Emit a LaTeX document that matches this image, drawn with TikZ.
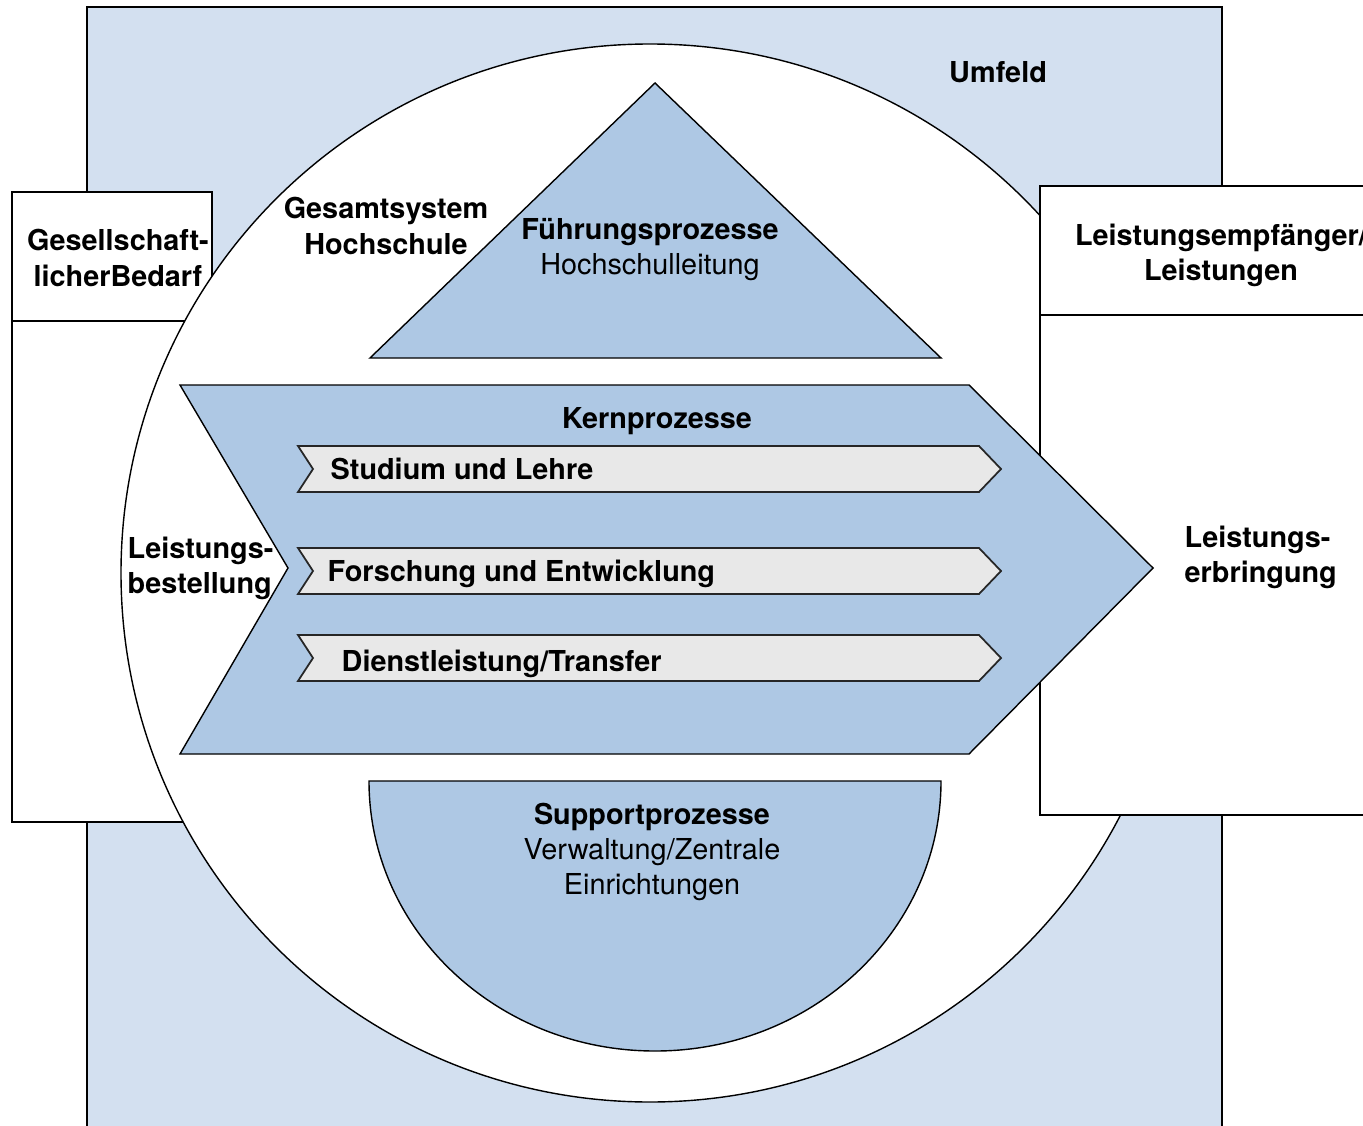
\documentclass[tikz,border=0pt]{standalone}
\usepackage{fontspec}
\setmainfont{TeX Gyre Heros}
\usetikzlibrary{positioning}
\definecolor{umfeldblue}{RGB}{211,224,240}
\definecolor{procblue}{RGB}{174,200,228}
\definecolor{subgray}{RGB}{232,232,232}

\begin{document}
\begin{tikzpicture}[
      frame/.style={
         draw=black,
         line width=0.5pt
      },
      process/.style={
         draw=black,
         fill=procblue,
         line width=0.4pt,
         line join=miter
      },
      subprocess/.style={
         draw=black!85,
         fill=subgray,
         line width=0.5pt
      },
      heading/.style={
         font=\fontsize{8.2}{10}\selectfont\bfseries,
         inner sep=0pt,
         align=center
      },
      plain/.style={
         font=\fontsize{8.2}{10}\selectfont,
         inner sep=0pt,
         align=center
      }
    ]
    \useasboundingbox (0,0) rectangle (13.63,11.25);
    \clip (0,0) rectangle (13.63,11.25);
    % Umfeld
    \draw[frame, fill=umfeldblue] (0.87,-0.1) -- (0.87,11.18) -- (12.22,11.18) -- (12.22,-0.1);
    % left box
    \draw[frame, fill=white] (0.12,3.03) rectangle (2.12,9.33);
    \draw[frame] (0.12,8.04) -- (2.12,8.04);
    % Gesamtsystem
    \draw[line width=0.4pt, fill=white] (6.50,5.52) circle (5.29);
    % right box
    \draw[frame, fill=white] (10.40,3.10) rectangle (14.0,9.39);
    \draw[frame] (10.40,8.10) -- (14.0,8.10);
    % Kernprozesse
    \draw[process] (1.80,7.40) -- (9.69,7.40) -- (11.53,5.57) -- (9.69,3.71)
       -- (1.80,3.71) -- (2.88,5.57) -- cycle;
    % Fuehrung
    \draw[process] (3.70,7.67) -- (6.55,10.42) -- (9.41,7.67) -- cycle;
    % Support
    \draw[process] (3.69,3.44) arc[start angle=180, end angle=360, x radius=2.86, y radius=2.70] -- cycle;
    % sub processes
    \foreach \y in {6.56, 5.54, 4.67} {
      \draw[subprocess] (2.98,\y+0.23) -- (9.79,\y+0.23) -- (10.01,\y) -- (9.79,\y-0.23)
         -- (2.98,\y-0.23) -- (3.13,\y) -- cycle;
    }

    \node[heading] (umfeld) at (9.98,10.53) {Umfeld};
    \node[heading] (gesamt) at (3.86,8.99) {Gesamtsystem\\Hochschule};
    \node[heading] (bedarf) at (1.18,8.67) {Gesellschaft-\\licherBedarf};
    \node[heading] (empfaenger) at (12.21,8.70) {Leistungsempfänger/\\Leistungen};
    \node[plain] (fuehrung) at (6.50,8.75) {\textbf{Führungsprozesse}\\Hochschulleitung};
    \node[heading] (kern) at (6.57,7.04) {Kernprozesse};
    \node[heading, anchor=west] (studium) at (3.30,6.56) {Studium und Lehre};
    \node[heading, anchor=west] (forschung) at (3.27,5.51) {Forschung und Entwicklung};
    \node[heading, anchor=west] (dienst) at (3.41,4.61) {Dienstleistung/Transfer};
    \node[heading, align=left, anchor=west] (bestellung) at (1.27,5.565) {Leistungs-\\bestellung};
    \node[heading, align=left, anchor=west] (erbringung) at (11.84,5.675) {Leistungs-\\erbringung};
    \node[plain] (support) at (6.52,2.73) {\textbf{Supportprozesse}\\Verwaltung/Zentrale\\Einrichtungen};
\end{tikzpicture}
\end{document}
